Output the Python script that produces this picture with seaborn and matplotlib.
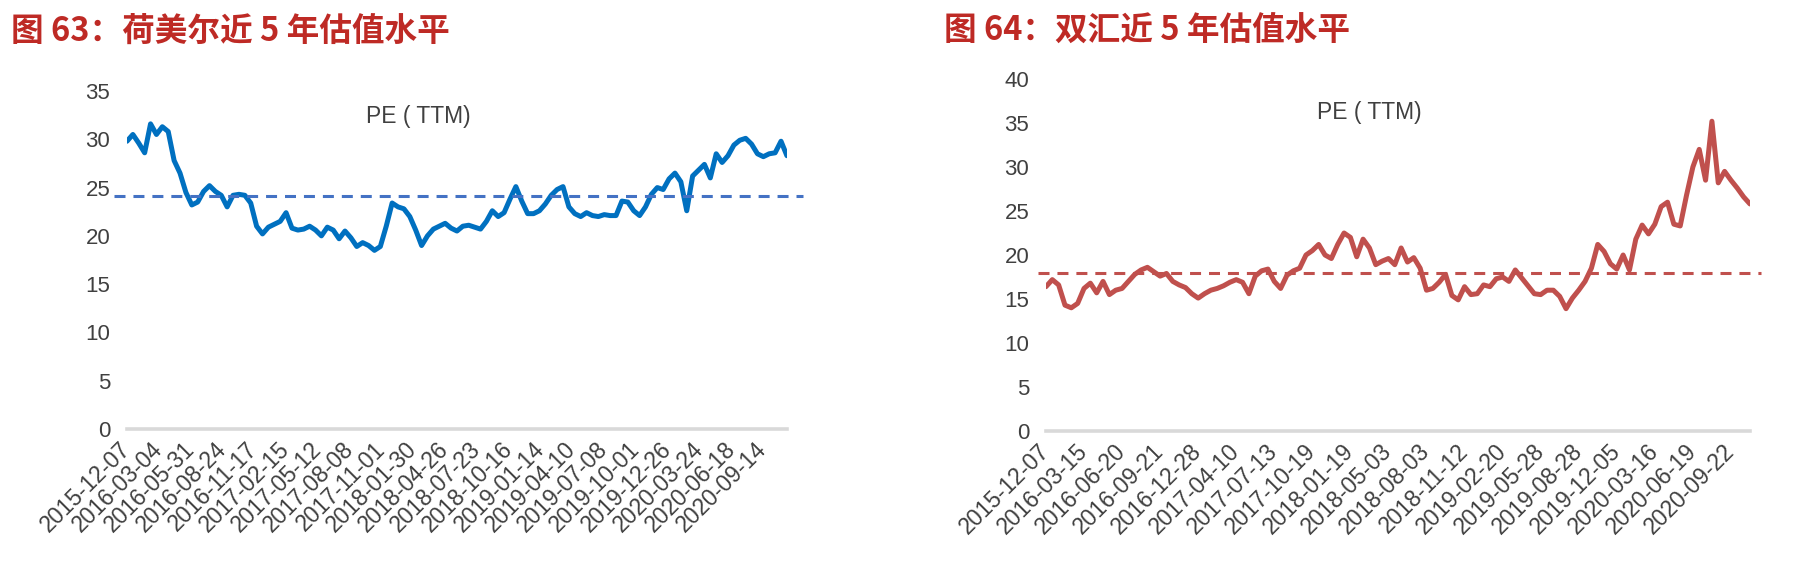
import numpy as np
import pandas as pd
import matplotlib
matplotlib.use("Agg")
import matplotlib.pyplot as plt
import seaborn as sns

# ---------------- data ----------------
title_left = "图 63：荷美尔近 5 年估值水平"
title_right = "图 64：双汇近 5 年估值水平"
series_label = "PE ( TTM)"

# 荷美尔 PE(TTM), one reading every ~10 trading days
hormel_pe = [
    29.8, 30.5, 29.6, 28.6, 31.6, 30.5, 31.3, 30.8, 27.8, 26.5,
    24.5, 23.2, 23.5, 24.6, 25.2, 24.6, 24.2, 23.0, 24.2, 24.3,
    24.2, 23.4, 21.0, 20.2, 20.9, 21.2, 21.5, 22.4, 20.8, 20.6,
    20.7, 21.0, 20.6, 20.0, 20.9, 20.6, 19.7, 20.5, 19.8, 18.9,
    19.3, 19.0, 18.5, 18.9, 21.0, 23.4, 23.0, 22.8, 22.0, 20.6,
    19.0, 20.0, 20.7, 21.0, 21.3, 20.8, 20.5, 21.0, 21.1, 20.9,
    20.7, 21.5, 22.6, 22.0, 22.4, 23.8, 25.1, 23.6, 22.3, 22.3,
    22.6, 23.3, 24.2, 24.8, 25.1, 23.0, 22.3, 22.0, 22.4, 22.1,
    22.0, 22.2, 22.1, 22.1, 23.6, 23.5, 22.6, 22.1, 23.0, 24.3,
    25.0, 24.8, 25.9, 26.5, 25.6, 22.6, 26.2, 26.8, 27.4, 26.0,
    28.5, 27.6, 28.3, 29.4, 29.9, 30.1, 29.5, 28.5, 28.2, 28.5,
    28.6, 29.8, 28.3,
]
hormel_avg = 24.1
hormel_ticks = [
    "2015-12-07", "2016-03-04", "2016-05-31", "2016-08-24", "2016-11-17",
    "2017-02-15", "2017-05-12", "2017-08-08", "2017-11-01", "2018-01-30",
    "2018-04-26", "2018-07-23", "2018-10-16", "2019-01-14", "2019-04-10",
    "2019-07-08", "2019-10-01", "2019-12-26", "2020-03-24", "2020-06-18",
    "2020-09-14",
]

# 双汇 PE(TTM), one reading every ~10 trading days
shuanghui_pe = [
    16.4, 17.2, 16.6, 14.3, 14.0, 14.5, 16.2, 16.8, 15.7, 17.0,
    15.5, 16.0, 16.2, 17.0, 17.8, 18.3, 18.6, 18.1, 17.6, 17.9,
    17.0, 16.6, 16.3, 15.6, 15.1, 15.6, 16.0, 16.2, 16.5, 16.9,
    17.2, 16.9, 15.6, 17.6, 18.2, 18.4, 17.0, 16.2, 17.7, 18.2,
    18.5, 20.0, 20.5, 21.2, 20.0, 19.6, 21.2, 22.5, 22.0, 19.8,
    21.8, 20.8, 18.9, 19.3, 19.6, 18.9, 20.8, 19.2, 19.7, 18.5,
    16.0, 16.2, 16.9, 17.8, 15.4, 14.9, 16.4, 15.5, 15.6, 16.6,
    16.4, 17.3, 17.5, 17.0, 18.3, 17.4, 16.5, 15.6, 15.5, 16.0,
    16.0, 15.3, 13.9, 15.1, 16.0, 17.0, 18.5, 21.2, 20.4, 19.0,
    18.4, 20.0, 18.3, 21.8, 23.4, 22.4, 23.5, 25.5, 26.0, 23.5,
    23.3, 26.8, 30.0, 32.0, 28.5, 35.2, 28.2, 29.5, 28.5, 27.6,
    26.6, 25.8,
]
shuanghui_avg = 17.9
shuanghui_ticks = [
    "2015-12-07", "2016-03-15", "2016-06-20", "2016-09-21", "2016-12-28",
    "2017-04-10", "2017-07-13", "2017-10-19", "2018-01-19", "2018-05-03",
    "2018-08-03", "2018-11-12", "2019-02-20", "2019-05-28", "2019-08-28",
    "2019-12-05", "2020-03-16", "2020-06-19", "2020-09-22",
]

# ---------------- style ----------------
sns.set_theme(style="white")
plt.rcParams["font.family"] = ["Liberation Sans", "Noto Sans CJK SC", "DejaVu Sans"]

TITLE_RED = "#BE2A25"
TEXT_GRAY = "#404040"
AXIS_GRAY = "#D9D9D9"

fig = plt.figure(figsize=(18.14, 5.72), dpi=100)

panels = [
    dict(rect=[0.0700, 0.2500, 0.3638, 0.5909], values=hormel_pe, avg=hormel_avg,
         ticks=hormel_ticks, step=5.4, ymax=35, color="#0070C0", avg_color="#4472C4",
         title=title_left, tx=0.0060, lab=(0.441, 0.926), dash_ext=(-0.02, 1.024)),
    dict(rect=[0.5766, 0.2465, 0.3881, 0.6154], values=shuanghui_pe, avg=shuanghui_avg,
         ticks=shuanghui_ticks, step=6.0, ymax=40, color="#C0504D", avg_color="#C0504D",
         title=title_right, tx=0.5205, lab=(0.46, 0.906), dash_ext=(-0.012, 1.016)),
]

for p in panels:
    ax = fig.add_axes(p["rect"])
    df = pd.DataFrame({"idx": np.arange(len(p["values"])), "pe": p["values"]})
    sns.lineplot(data=df, x="idx", y="pe", ax=ax, color=p["color"], linewidth=3.6,
                 solid_joinstyle="round", solid_capstyle="round")
    ax.axhline(p["avg"], xmin=p["dash_ext"][0], xmax=p["dash_ext"][1], clip_on=False,
               color=p["avg_color"], linewidth=2.2, dashes=(3.6, 2.6))
    n = len(p["values"])
    ax.set_xlim(0, n - 1)
    ax.set_ylim(0, p["ymax"])
    ax.set_yticks(np.arange(0, p["ymax"] + 1, 5))
    ax.set_yticklabels([str(v) for v in range(0, p["ymax"] + 1, 5)])
    tick_pos = [i * p["step"] for i in range(len(p["ticks"]))]
    ax.set_xticks(tick_pos)
    ax.set_xticklabels(p["ticks"], rotation=45, ha="right",
                       va="center", rotation_mode="anchor")
    ax.tick_params(axis="both", length=0, labelcolor=TEXT_GRAY)
    ax.tick_params(axis="y", pad=12, labelsize=16)
    ax.tick_params(axis="x", pad=12, labelsize=16.5)
    ax.set_xlabel("")
    ax.set_ylabel("")
    for s in ["top", "right", "left"]:
        ax.spines[s].set_visible(False)
    ax.spines["bottom"].set_color(AXIS_GRAY)
    ax.spines["bottom"].set_linewidth(2.6)
    ax.grid(False)
    ax.patch.set_alpha(0)
    ax.text(p["lab"][0], p["lab"][1], series_label, transform=ax.transAxes,
            ha="center", va="center", fontsize=16.5, color=TEXT_GRAY)
    fig.text(p["tx"], 1 - 31 / 572, p["title"], ha="left", va="center",
             fontsize=23.5, fontweight="bold", color=TITLE_RED,
             family=["Noto Sans CJK SC", "DejaVu Sans"])

fig.savefig("out.png", dpi=100, facecolor="white")
